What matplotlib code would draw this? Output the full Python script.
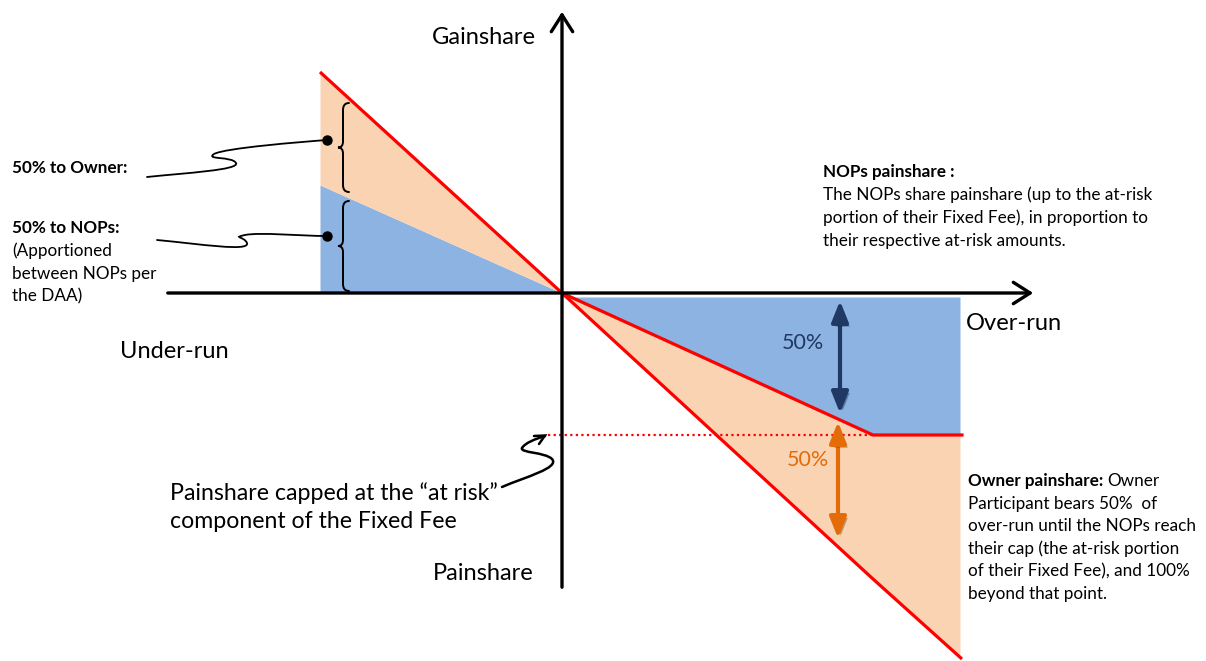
import numpy as np
import matplotlib
matplotlib.use("Agg")
import matplotlib.pyplot as plt
from matplotlib.patches import FancyArrowPatch, PathPatch
from matplotlib.path import Path
import matplotlib.patheffects as pe

# ---- data (diagram units: x = over-run (+) / under-run (-), y = gain (+) / pain (-)) ----
overrun = np.array([-242, 0, 311, 400])          # key x positions
total_share = np.array([221, 0, -286, -366])       # total gain/pain (owner + NOPs)
nop_share = np.array([108, 0, -142, -142])        # NOPs' share, capped at at-risk fee
cap_level = -142

ORANGE_FILL = "#FAD3B3"
BLUE_FILL = "#8DB3E2"
RED = "#FF0000"
NAVY = "#1F3864"
ORANGE = "#E36C09"
FONT = "Lato"

fig = plt.figure(figsize=(12.06, 6.61), dpi=100)
ax = fig.add_axes([0, 0, 1, 1])
ax.set_xlim(-562, 644)
ax.set_ylim(-368, 293)
ax.axis("off")


def P(px, py):
    return (px - 562, 293 - py)


# ---- fills ----
xl = overrun[:2]
ax.fill_between(xl, nop_share[:2], 0, color=BLUE_FILL, lw=0, zorder=1)
ax.fill_between(xl, total_share[:2], nop_share[:2], color=ORANGE_FILL, lw=0, zorder=1)
xr_f = np.array([0, 311, 398])
nop_r = np.interp(xr_f, overrun, nop_share)
tot_r = np.interp(xr_f, overrun, total_share)
ax.fill_between(xr_f, -4, nop_r, color=BLUE_FILL, lw=0, zorder=1)
ax.fill_between(xr_f, nop_r, tot_r, color=ORANGE_FILL, lw=0, zorder=1)

# ---- red lines ----
ax.plot(overrun, total_share, color=RED, lw=2.3, zorder=3, solid_capstyle="butt")
ax.plot(overrun[1:], nop_share[1:], color=RED, lw=2.3, zorder=3)
ax.plot([-14, overrun[2]], [cap_level, cap_level], color=RED, lw=1.6, ls=(0, (1, 1.5)), zorder=3)

# ---- axes arrows ----
for start, end in [(P(165, 293), P(1036, 293)), (P(562, 590), P(562, 9))]:
    a = FancyArrowPatch(start, end, arrowstyle="->,head_length=0.55,head_width=0.35",
                        mutation_scale=22, lw=2.4, color="black", zorder=4)
    ax.add_patch(a)

# ---- 50% arrows ----
shadow = [pe.SimplePatchShadow(offset=(2, -2), alpha=0.35), pe.Normal()]
a1 = FancyArrowPatch(P(840, 298), P(840, 416), arrowstyle="<|-|>,head_length=0.7,head_width=0.28",
                     mutation_scale=18, lw=3, color=NAVY, zorder=5, path_effects=shadow)
ax.add_patch(a1)
a2 = FancyArrowPatch(P(838, 419), P(838, 541), arrowstyle="<|-|>,head_length=0.7,head_width=0.28",
                     mutation_scale=18, lw=3, color=ORANGE, zorder=5, path_effects=shadow)
ax.add_patch(a2)
ax.text(*P(803, 343), "50%", color=NAVY, fontsize=15.5, family=FONT, ha="center", va="center", zorder=6)
ax.text(*P(808, 460), "50%", color=ORANGE, fontsize=15.5, family=FONT, ha="center", va="center", zorder=6)


# ---- braces ----
def brace2(y_top, y_bot):
    xe, xm, xt = 349, 343, 338
    ym = (y_top + y_bot) / 2
    v = [P(xe, y_top), P(xm, y_top), P(xm, y_top + 7),
         P(xm, ym - 6), P(xm, ym), P(xt, ym),
         P(xm, ym), P(xm, ym + 6),
         P(xm, y_bot - 7), P(xm, y_bot), P(xe, y_bot)]
    c = [Path.MOVETO, Path.CURVE3, Path.CURVE3,
         Path.LINETO, Path.CURVE3, Path.CURVE3,
         Path.CURVE3, Path.CURVE3,
         Path.LINETO, Path.CURVE3, Path.CURVE3]
    ax.add_patch(PathPatch(Path(v, c), fill=False, lw=1.4, color="black", zorder=5, capstyle="round"))


brace2(103, 192)
brace2(201, 291)

# ---- dots ----
ax.plot(*P(327, 140), "o", color="black", ms=6.5, zorder=6)
ax.plot(*P(327, 236), "o", color="black", ms=6.5, zorder=6)


# ---- squiggles ----
def curve(pts, codes, lw=1.3, **kw):
    ax.add_patch(PathPatch(Path([P(*p) for p in pts], codes), fill=False, lw=lw,
                           color="black", zorder=5, capstyle="round", **kw))


C4 = Path.CURVE4
curve([(147, 177), (185, 173), (240, 170), (236, 163),
       (232, 156), (205, 160), (214, 154),
       (225, 148), (300, 142), (327, 140)],
      [Path.MOVETO, C4, C4, C4, C4, C4, C4, C4, C4, C4])
curve([(157, 240), (200, 244), (250, 252), (247, 243),
       (244, 236), (232, 238), (245, 235),
       (260, 232), (300, 236), (327, 236)],
      [Path.MOVETO, C4, C4, C4, C4, C4, C4, C4, C4, C4])
curve([(502, 487), (525, 477), (560, 468), (552, 459),
       (545, 452), (520, 453), (522, 448),
       (525, 443), (535, 439), (545, 436)],
      [Path.MOVETO, C4, C4, C4, C4, C4, C4, C4, C4, C4], lw=1.8)
curve([(534, 436), (545, 435.5), (539, 444)],
      [Path.MOVETO, Path.LINETO, Path.LINETO], lw=1.8)

# ---- texts ----
big = dict(fontsize=17, family=FONT, color="black", va="center", ha="left")
ax.text(*P(432, 37), "Gainshare", **big)
ax.text(*P(120, 352), "Under-run", **big)
ax.text(*P(966, 323), "Over-run", **big)
ax.text(*P(433, 574), "Painshare", **big)
ax.text(*P(170, 493), "Painshare capped at the \u201cat risk\u201d", **dict(big, fontsize=16.7))
ax.text(*P(170, 522), "component of the Fixed Fee", **dict(big, fontsize=16.7))

sm = dict(fontsize=12.3, family=FONT, color="black", va="center", ha="left")
smb = dict(sm, fontweight="bold")
ax.text(*P(12, 168), "50% to Owner:", **smb)
ax.text(*P(12, 228), "50% to NOPs:", **smb)
for i, s in enumerate(["(Apportioned", "between NOPs per", "the DAA)"]):
    ax.text(*P(12, 251 + 22.7 * i), s, **sm)

ax.text(*P(823, 172), "NOPs painshare :", **smb)
for i, s in enumerate(["The NOPs share painshare (up to the at-risk",
                       "portion of their Fixed Fee), in proportion to",
                       "their respective at-risk amounts."]):
    ax.text(*P(823, 195 + 23 * i), s, **sm)

t = ax.text(*P(968, 481), "Owner painshare:", **smb)
fig.canvas.draw()
bb = t.get_window_extent()
ax.text(*P(bb.x1 + 4, 481), "Owner", **sm)
for i, s in enumerate(["Participant bears 50%  of",
                       "over-run until the NOPs reach",
                       "their cap (the at-risk portion",
                       "of their Fixed Fee), and 100%",
                       "beyond that point."]):
    ax.text(*P(968, 503.5 + 22.5 * i), s, **sm)

fig.savefig("out.png", dpi=100)
